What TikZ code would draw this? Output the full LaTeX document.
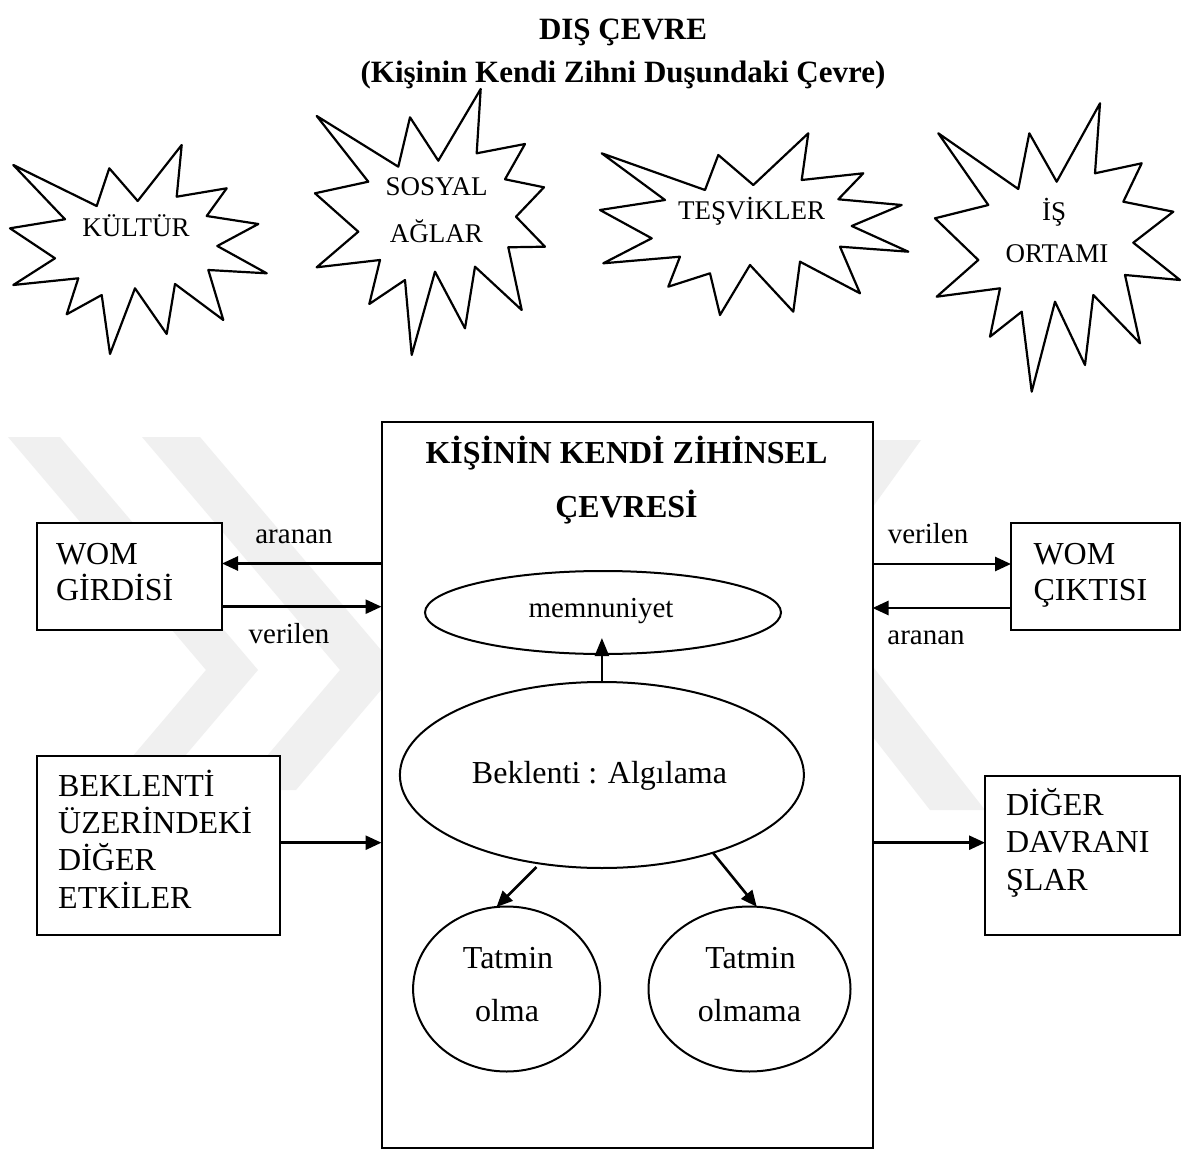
\documentclass[tikz,border=0pt]{standalone}
\usepackage{fontspec}
\setmainfont{Liberation Serif}
\usetikzlibrary{arrows.meta,shapes.geometric}
\newcommand\szbody{\fontsize{32}{36}\selectfont}
\newcommand\szlbl{\fontsize{29}{34}\selectfont}
\newcommand\szstar{\fontsize{27}{32}\selectfont}
\newcommand\szbold{\bfseries\fontsize{32}{36}\selectfont}
\newcommand\sztitle{\bfseries\fontsize{31}{36}\selectfont}
\begin{document}
\begin{tikzpicture}[x=1pt,y=-1pt,
  every node/.style={inner sep=0pt,outer sep=0pt},
  boxnode/.style={draw,line width=2pt,fill=white,anchor=north west},
  ellnode/.style={draw,ellipse,line width=2pt,inner sep=0pt},
  arr/.style={line width=2.6pt,-{Triangle[length=16pt,width=14pt]}},
  starline/.style={draw,line width=2.2pt,line join=round,fill=white},
  wmark/.style={fill=black!6,draw=none},
  ltxt/.style={font=\szbody,anchor=base west},
  ctxt/.style={font=\szbody,anchor=base},
  lbl/.style={font=\szlbl,anchor=base},
  stxt/.style={font=\szstar,anchor=base}]
\useasboundingbox (0,0) rectangle (1186,1150);
\fill[white] (0,0) rectangle (1186,1150);

% watermark (faint chevrons)
\path[wmark] (8,437) -- (60,437) -- (258,670) -- (156,790) -- (104,790) -- (206,670) -- cycle;
\path[wmark] (142,437) -- (200,437) -- (398,670) -- (296,790) -- (238,790) -- (340,670) -- cycle;
\path[wmark] (866,440) -- (921,440) -- (813,590) -- (985,810) -- (930,810) -- (758,590) -- cycle;

% starbursts
\draw[starline] (13.3,165) -- (96.7,206) -- (109.3,168.3) -- (137.7,201) -- (181.7,145) -- (176.7,196.7) -- (226.7,188.3) -- (206.7,216) -- (258.3,224) -- (217.3,246) -- (266.7,273.3) -- (208.3,270) -- (223.3,320) -- (175,284) -- (166.7,334) -- (135,288.3) -- (110,354) -- (101.7,295) -- (66.7,314.3) -- (78.3,278.3) -- (13.3,285) -- (55,258.3) -- (10,228.3) -- (65,219.3) -- cycle;
\node[stxt] (kultur) at (136,236.7) {KÜLTÜR};

\draw[starline] (316.7,116) -- (398.3,166.7) -- (410,117.3) -- (438.3,160.7) -- (480.7,89) -- (476.7,153.3) -- (525,144) -- (505,179.3) -- (544,187.3) -- (516,216.7) -- (545,246.7) -- (508.3,247.3) -- (521.7,310) -- (475,266.7) -- (465,328.3) -- (435,271.7) -- (411.7,355) -- (405,280) -- (369.3,304) -- (380,260) -- (316.7,267.3) -- (358.3,231.7) -- (315,193.3) -- (368.3,181.7) -- cycle;
\node[stxt] (sosyal) at (436.7,196) {SOSYAL};
\node[stxt] (aglar) at (436.3,242.3) {AĞLAR};

\draw[starline] (601.7,153.3) -- (705,190) -- (718.3,155) -- (753.3,185) -- (808.3,133.3) -- (801.7,180) -- (863.3,173.3) -- (838.3,199.3) -- (901.7,205) -- (851.7,226) -- (908.3,251.7) -- (840,246.7) -- (860,293.3) -- (800,261.7) -- (793.3,311.7) -- (750,265) -- (720,315) -- (710,273.3) -- (668.3,286.7) -- (680,256.7) -- (603.3,263.3) -- (651.7,238.3) -- (600,210) -- (665,200) -- cycle;
\node[stxt] (tesvik) at (751.7,219.3) {TEŞVİKLER};

\draw[starline] (938.3,133.3) -- (1018.3,189) -- (1029.3,133.3) -- (1056.7,181.7) -- (1100,103.3) -- (1095,173.3) -- (1141.7,163.3) -- (1123.3,201.7) -- (1173.3,211.7) -- (1133.3,242.7) -- (1180,280) -- (1125,275) -- (1140,343.3) -- (1093.3,295) -- (1085,365) -- (1055,301.7) -- (1031.7,391.7) -- (1021.7,311.7) -- (990,336.7) -- (1000,288.3) -- (936.7,296.7) -- (978.3,260) -- (935,218.3) -- (988.3,205) -- cycle;
\node[stxt] (is) at (1054,221) {İŞ};
\node[stxt] (ortam) at (1057,262.7) {ORTAMI};

% title (drawn over the stars)
\node[font=\sztitle,anchor=base] (t1) at (623,40) {DIŞ ÇEVRE};
\node[font=\sztitle,anchor=base] (t2) at (623,83) {(Kişinin Kendi Zihni Duşundaki Çevre)};

% main box
\node[boxnode,minimum width=491pt,minimum height=726pt] (main) at (381.5,422) {};
\node[font=\szbold,anchor=base] (m1) at (626.5,463.3) {KİŞİNİN KENDİ ZİHİNSEL};
\node[font=\szbold,anchor=base] (m2) at (626.5,517) {ÇEVRESİ};

% ellipses
\node[ellnode,minimum width=356pt,minimum height=83pt] (memn) at (603,612.5) {};
\node[lbl] (memntxt) at (601,617) {memnuniyet};
\node[ellnode,minimum width=404pt,minimum height=186pt] (bek) at (601.9,775) {};
\node[ctxt] (bektxt) at (599.5,783.3) {Beklenti : Algılama};
\node[ellnode,minimum width=187pt,minimum height=165pt] (tol) at (506.6,989) {};
\node[ctxt] (tol1) at (508,968.3) {Tatmin};
\node[ctxt] (tol2) at (507,1021.7) {olma};
\node[ellnode,minimum width=202pt,minimum height=165pt] (tom) at (749.5,989) {};
\node[ctxt] (tom1) at (750.4,968.3) {Tatmin};
\node[ctxt] (tom2) at (749.5,1021.7) {olmama};

\coordinate (mtip) at ([yshift=16pt]memn.south -| bek.north);
\draw[line width=2.4pt,-{Triangle[length=18pt,width=14pt]}] (bek.north) -- (mtip);
\draw[arr,shorten <=5pt] (bek.235) -- (tol.97);
\draw[arr] (bek.325) -- (tom.85);

% left boxes
\node[boxnode,minimum width=185pt,minimum height=107pt] (womin) at (37,523) {};
\node[ltxt] (womin1) at (56,564) {WOM};
\node[ltxt] (womin2) at (56,600) {GİRDİSİ};
\draw[arr] (main.west |- 0,563.5) -- (womin.east |- 0,563.5);
\draw[arr] (womin.east |- 0,606.7) -- (main.west |- 0,606.7);
\node[lbl] (la1) at (294,543.5) {aranan};
\node[lbl] (lv1) at (289,643.5) {verilen};

\node[boxnode,minimum width=243pt,minimum height=179pt] (bekbox) at (36.5,756) {};
\node[ltxt] (bb1) at (58.2,796.7) {BEKLENTİ};
\node[ltxt] (bb2) at (58.2,833.3) {ÜZERİNDEKİ};
\node[ltxt] (bb3) at (58.2,870.7) {DİĞER};
\node[ltxt] (bb4) at (58.2,908.3) {ETKİLER};
\draw[arr] (bekbox.east |- 0,842.7) -- (main.west |- 0,842.7);

% right boxes
\node[boxnode,minimum width=169pt,minimum height=107pt] (womout) at (1011,523) {};
\node[ltxt] (womout1) at (1033.5,564) {WOM};
\node[ltxt] (womout2) at (1033.5,600) {ÇIKTISI};
\draw[arr] (main.east |- 0,564) -- (womout.west |- 0,564);
\draw[arr] (womout.west |- 0,608) -- (main.east |- 0,608);
\node[lbl] (lv2) at (928,543.3) {verilen};
\node[lbl] (la2) at (926,644.3) {aranan};

\node[boxnode,minimum width=195pt,minimum height=159pt] (digbox) at (985,776) {};
\node[ltxt] (db1) at (1006,815) {DİĞER};
\node[ltxt] (db2) at (1006,852.3) {DAVRANI};
\node[ltxt] (db3) at (1006,890) {ŞLAR};
\draw[arr] (main.east |- 0,842.7) -- (digbox.west |- 0,842.7);
\end{tikzpicture}
\end{document}
